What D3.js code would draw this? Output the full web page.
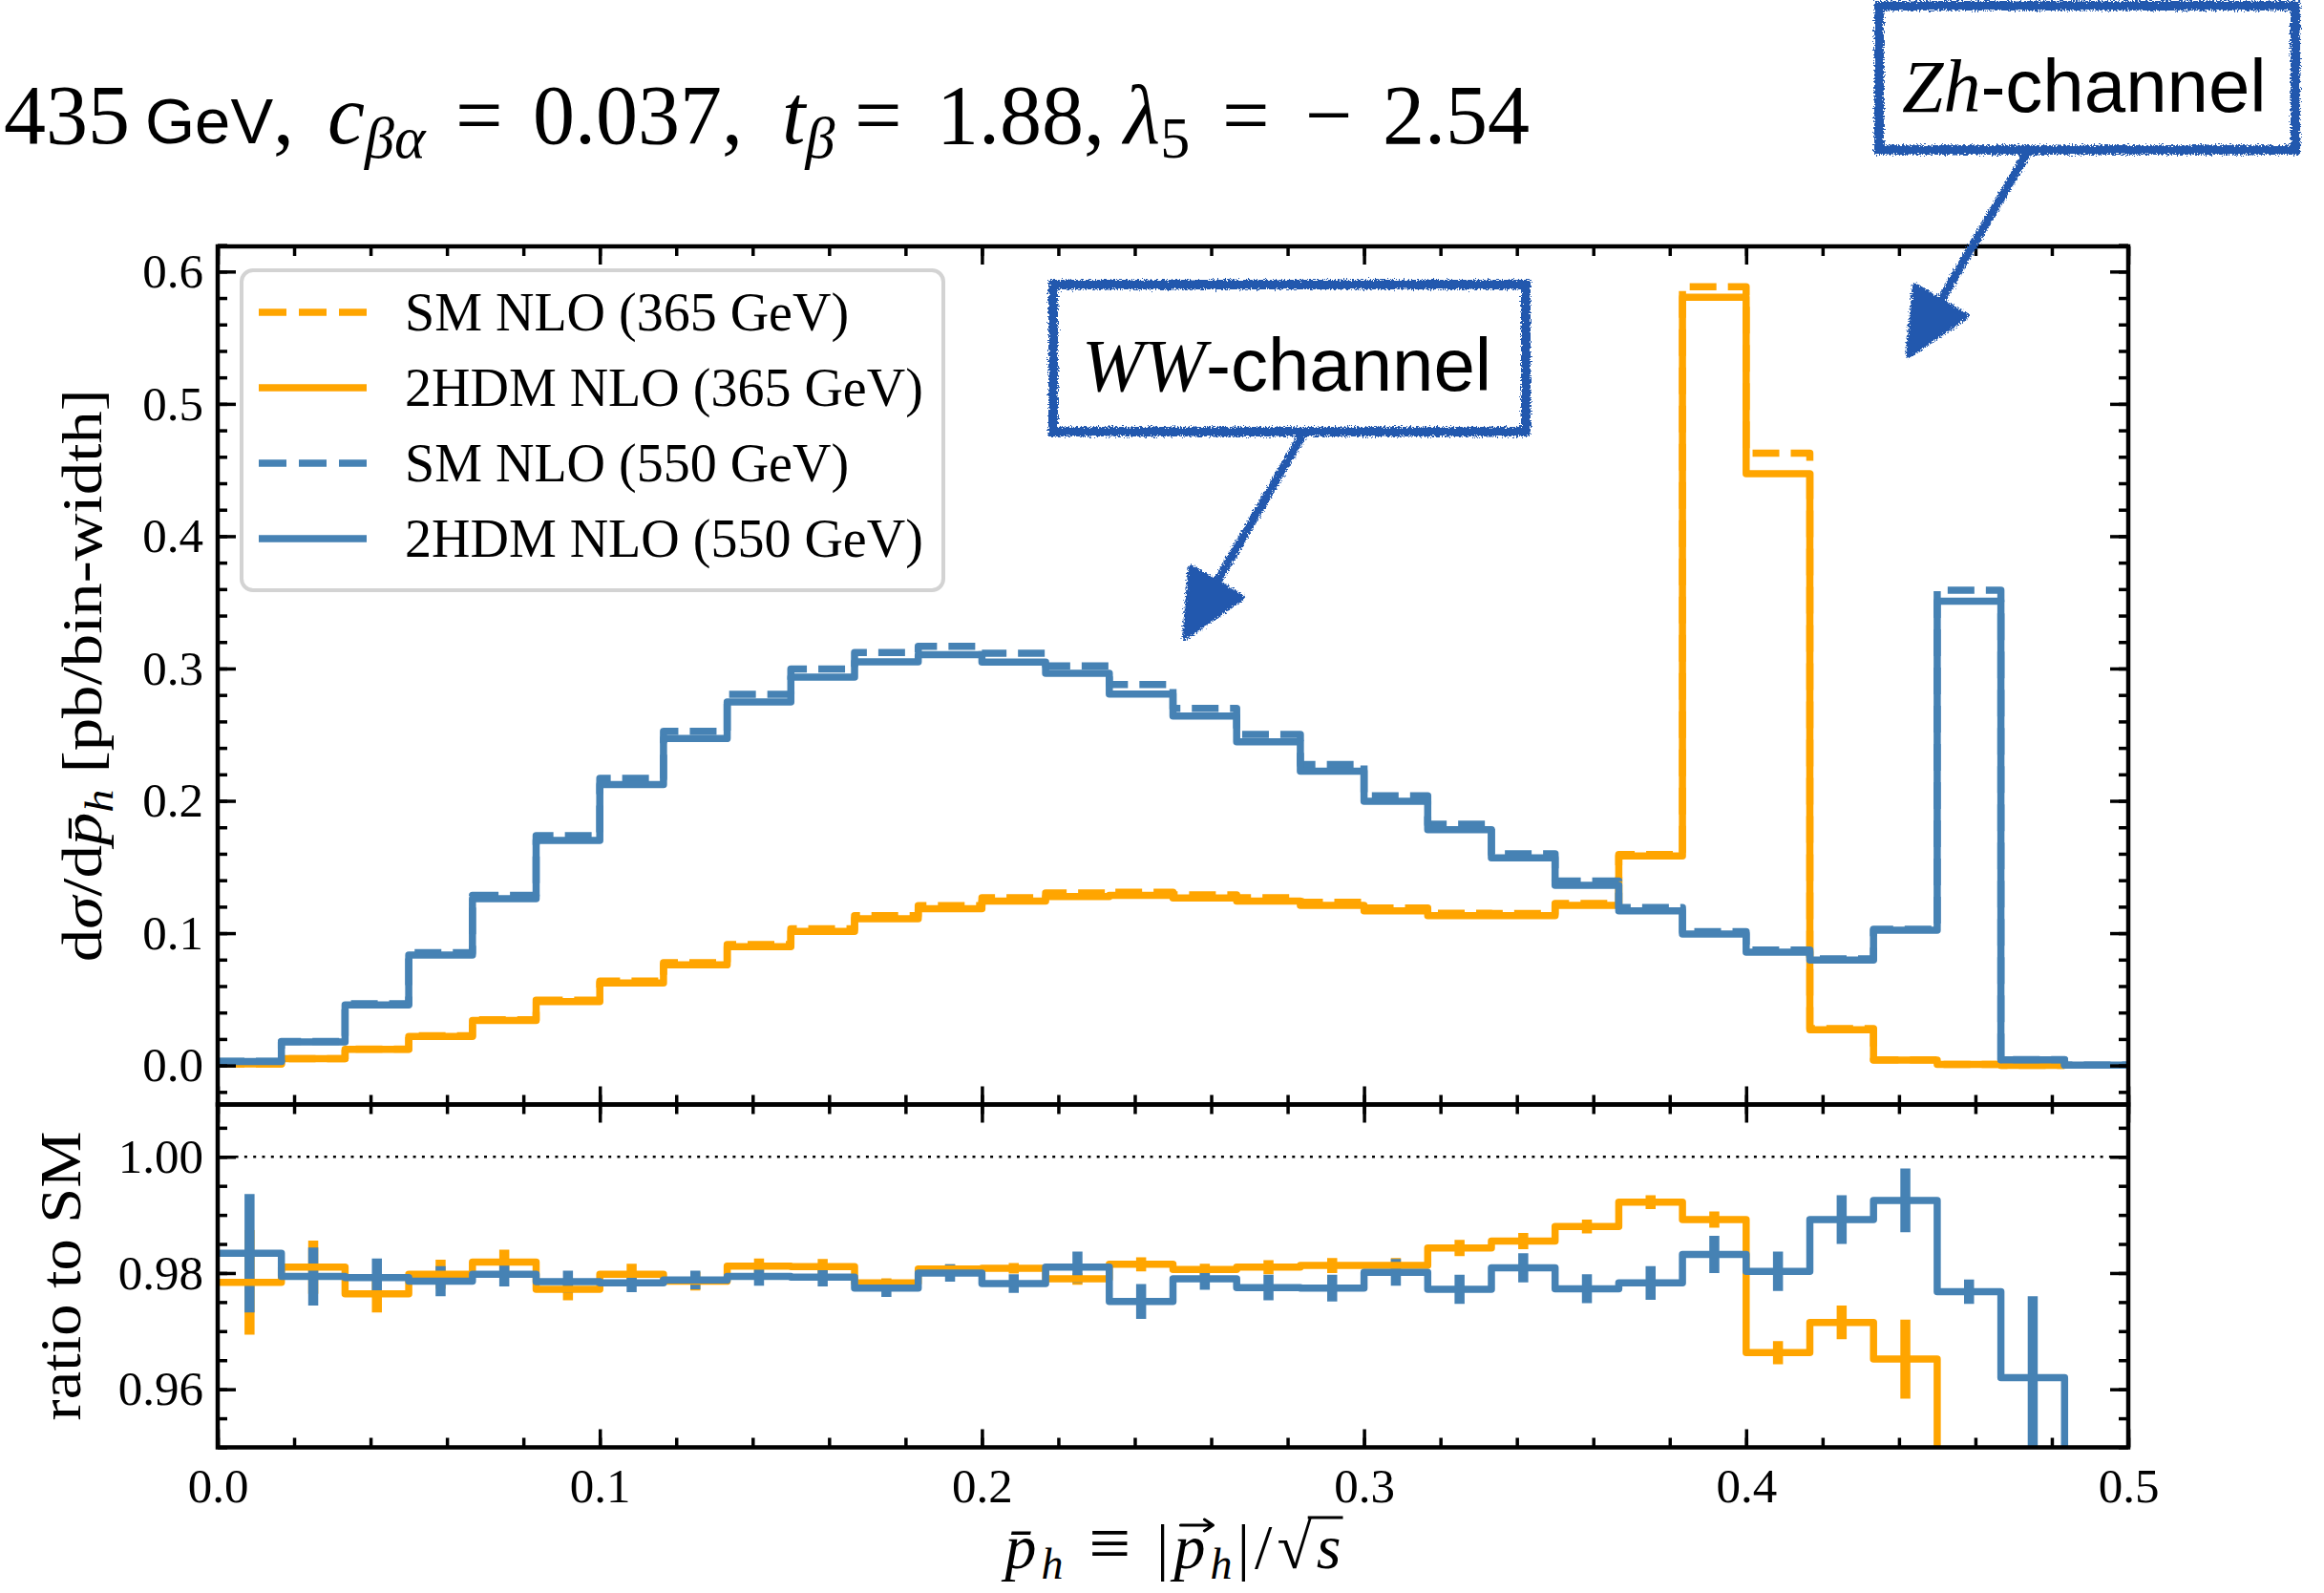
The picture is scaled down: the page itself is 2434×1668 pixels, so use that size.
<!DOCTYPE html>
<html>
<head>
<meta charset="utf-8">
<script src="https://cdn.jsdelivr.net/npm/d3@7"></script>
<style>
  body { margin: 0; background: #fff; }
</style>
</head>
<body>
<div id="chart"></div>
<script>
// bin edges (30 bins of width 1/60 in p_h/sqrt(s))
const binEdges = [0, 0.016667, 0.033333, 0.05, 0.066667, 0.083333, 0.1, 0.116667, 0.133333, 0.15,
  0.166667, 0.183333, 0.2, 0.216667, 0.233333, 0.25, 0.266667, 0.283333, 0.3, 0.316667,
  0.333333, 0.35, 0.366667, 0.383333, 0.4, 0.416667, 0.433333, 0.45, 0.466667, 0.483333, 0.5];

// dsigma/dp [pb/bin-width], 365 GeV (29 bins)
const sm365 = [0.0012, 0.0052, 0.0124, 0.0224, 0.0346, 0.0493, 0.0637, 0.0777, 0.0914, 0.1033,
  0.1133, 0.1208, 0.1267, 0.1303, 0.1310, 0.1290, 0.1267, 0.1233, 0.1190, 0.1150,
  0.1149, 0.1225, 0.1595, 0.5885, 0.4628, 0.0278, 0.0043, 0.0009, 0.0001];
const hdm365 = [0.0012, 0.0051, 0.0121, 0.0219, 0.0340, 0.0482, 0.0624, 0.0760, 0.0897, 0.1013,
  0.1108, 0.1185, 0.1243, 0.1276, 0.1286, 0.1265, 0.1243, 0.1210, 0.1168, 0.1132,
  0.1132, 0.1210, 0.1583, 0.5805, 0.4472, 0.0270, 0.0041, 0.0008, 0.0001];

// 550 GeV (30 bins)
const sm550 = [0.0031, 0.0181, 0.0467, 0.0852, 0.1286, 0.1737, 0.2170, 0.2525, 0.2805, 0.2997,
  0.3121, 0.3168, 0.3116, 0.3020, 0.2879, 0.2698, 0.2501, 0.2275, 0.2038, 0.1824,
  0.1600, 0.1394, 0.1194, 0.1011, 0.0873, 0.0805, 0.1030, 0.3592, 0.0044, 0.0002];
const hdm550 = [0.0030, 0.0177, 0.0457, 0.0834, 0.1260, 0.1700, 0.2123, 0.2471, 0.2747, 0.2935,
  0.3050, 0.3105, 0.3048, 0.2963, 0.2807, 0.2641, 0.2445, 0.2224, 0.1997, 0.1782,
  0.1569, 0.1362, 0.1168, 0.0994, 0.0856, 0.0796, 0.1022, 0.3509, 0.0042, 0.0002];

// ratio 2HDM / SM with MC errors
const ratio365 = [0.9784, 0.9810, 0.9764, 0.9798, 0.9819, 0.9772, 0.9798, 0.9786, 0.9812, 0.9811,
  0.9783, 0.9807, 0.9808, 0.9790, 0.9815, 0.9806, 0.9810, 0.9813, 0.9813, 0.9843,
  0.9855, 0.9880, 0.9922, 0.9892, 0.9663, 0.9715, 0.9652, 0.9100, 0.9000];
const err365 = [0.0090, 0.0046, 0.0032, 0.0025, 0.0021, 0.0019, 0.0018, 0.0016, 0.0013, 0.0013,
  0.0008, 0.0008, 0.0009, 0.0010, 0.0012, 0.0010, 0.0012, 0.0013, 0.0013, 0.0014,
  0.0014, 0.0012, 0.0012, 0.0014, 0.0020, 0.0029, 0.0068, 0.0100, 0.0100];
const ratio550 = [0.9834, 0.9794, 0.9792, 0.9786, 0.9798, 0.9785, 0.9783, 0.9788, 0.9794, 0.9793,
  0.9774, 0.9800, 0.9782, 0.9810, 0.9751, 0.9790, 0.9775, 0.9774, 0.9801, 0.9772,
  0.9809, 0.9773, 0.9783, 0.9832, 0.9803, 0.9892, 0.9925, 0.9768, 0.9620, 0.9000];
const err550 = [0.0102, 0.0050, 0.0033, 0.0026, 0.0021, 0.0019, 0.0016, 0.0016, 0.0016, 0.0016,
  0.0015, 0.0015, 0.0016, 0.0027, 0.0030, 0.0019, 0.0022, 0.0023, 0.0023, 0.0025,
  0.0025, 0.0025, 0.0029, 0.0032, 0.0034, 0.0042, 0.0055, 0.0021, 0.0140, 0.0200];

const xTicks = [0.0, 0.1, 0.2, 0.3, 0.4, 0.5];
const yTicks = [0.0, 0.1, 0.2, 0.3, 0.4, 0.5, 0.6];
const rTicks = [0.96, 0.98, 1.00];
const legendLabels = ["SM NLO (365 GeV)", "2HDM NLO (365 GeV)", "SM NLO (550 GeV)", "2HDM NLO (550 GeV)"];

const W = 2434, H = 1668;
const serif = "'Liberation Serif', 'Times New Roman', serif";
const sans = "'Liberation Sans', Arial, sans-serif";
const ORANGE = "#ffa500", BLUE = "#4682b4", ANNOT = "#2159ae";
const LW = 7.5;

const svg = d3.select("#chart").append("svg")
  .attr("width", W).attr("height", H)
  .style("background", "#fff");

const defs = svg.append("defs");
const rough = defs.append("filter").attr("id", "rough")
  .attr("x", "-10%").attr("y", "-10%").attr("width", "120%").attr("height", "120%");
rough.append("feTurbulence").attr("type", "fractalNoise").attr("baseFrequency", 0.6)
  .attr("numOctaves", 2).attr("seed", 4).attr("result", "noise");
rough.append("feDisplacementMap").attr("in", "SourceGraphic").attr("in2", "noise")
  .attr("scale", 8).attr("xChannelSelector", "R").attr("yChannelSelector", "G");

const left = 228, right = 2229, mainTop = 258, split = 1156.5, ratioBottom = 1515.5;

const x = d3.scaleLinear().domain([0, 0.5]).range([left, right]);
const y = d3.scaleLinear().domain([-0.0295, 0.619]).range([split, mainTop]);
const yr = d3.scaleLinear().domain([0.95, 1.009]).range([ratioBottom, split]);

defs.append("clipPath").attr("id", "clipMain").append("rect")
  .attr("x", left).attr("y", mainTop).attr("width", right - left).attr("height", split - mainTop);
defs.append("clipPath").attr("id", "clipRatio").append("rect")
  .attr("x", left).attr("y", split).attr("width", right - left).attr("height", ratioBottom - split);

function stepPts(vals) {
  const p = vals.map((v, i) => [binEdges[i], v]);
  p.push([binEdges[vals.length], vals[vals.length - 1]]);
  return p;
}

// ---- main panel ----
const gMain = svg.append("g").attr("clip-path", "url(#clipMain)");
const lineMain = d3.line().x(d => x(d[0])).y(d => y(d[1])).curve(d3.curveStepAfter);

const series = [
  { vals: sm365, color: ORANGE, dash: "28,12" },
  { vals: hdm365, color: ORANGE, dash: null },
  { vals: sm550, color: BLUE, dash: "28,12" },
  { vals: hdm550, color: BLUE, dash: null }
];
series.forEach(s => {
  gMain.append("path")
    .attr("d", lineMain(stepPts(s.vals)))
    .attr("fill", "none")
    .attr("stroke", s.color)
    .attr("stroke-width", LW)
    .attr("stroke-linejoin", "round")
    .attr("stroke-dasharray", s.dash);
});

// ---- ratio panel ----
const gRatio = svg.append("g").attr("clip-path", "url(#clipRatio)");
const lineRatio = d3.line().x(d => x(d[0])).y(d => yr(d[1])).curve(d3.curveStepAfter);

gRatio.append("line")
  .attr("x1", left).attr("x2", right)
  .attr("y1", yr(1)).attr("y2", yr(1))
  .attr("stroke", "#000").attr("stroke-width", 2.6)
  .attr("stroke-dasharray", "3,6.3");

const ratioSeries = [
  { vals: ratio365, err: err365, color: ORANGE },
  { vals: ratio550, err: err550, color: BLUE }
];
ratioSeries.forEach(s => {
  gRatio.selectAll(null)
    .data(s.vals)
    .enter().append("line")
    .attr("x1", (d, i) => x((binEdges[i] + binEdges[i + 1]) / 2))
    .attr("x2", (d, i) => x((binEdges[i] + binEdges[i + 1]) / 2))
    .attr("y1", (d, i) => yr(d - s.err[i]))
    .attr("y2", (d, i) => yr(d + s.err[i]))
    .attr("stroke", s.color)
    .attr("stroke-width", 10.5);
});
ratioSeries.forEach(s => {
  gRatio.append("path")
    .attr("d", lineRatio(stepPts(s.vals)))
    .attr("fill", "none")
    .attr("stroke", s.color)
    .attr("stroke-width", LW)
    .attr("stroke-linejoin", "round");
});

// ---- axes ----
function drawTicks(g, axisFn, scale, values, size, fmt, pad) {
  const a = axisFn(scale).tickValues(values).tickSize(-size).tickPadding(pad);
  a.tickFormat(fmt ? fmt : () => "");
  g.call(a);
  g.select(".domain").remove();
  g.selectAll("line").attr("stroke", "#000").attr("stroke-width", 3.5);
  g.selectAll("text").attr("font-family", serif).attr("font-size", 51).attr("fill", "#000");
}

const xMinor = d3.range(0, 0.5001, 0.02);
const yMinor = d3.range(-0.02, 0.6201, 0.02);
const rMinor = d3.range(0.95, 1.0091, 0.005);
const MAJ = 19, MIN = 10;

// main panel ticks
drawTicks(svg.append("g").attr("transform", `translate(${left},0)`), d3.axisLeft, y, yMinor, MIN);
drawTicks(svg.append("g").attr("transform", `translate(${left},0)`), d3.axisLeft, y, yTicks, MAJ, d3.format(".1f"), 15);
drawTicks(svg.append("g").attr("transform", `translate(${right},0)`), d3.axisRight, y, yMinor, MIN);
drawTicks(svg.append("g").attr("transform", `translate(${right},0)`), d3.axisRight, y, yTicks, MAJ);
drawTicks(svg.append("g").attr("transform", `translate(0,${mainTop})`), d3.axisTop, x, xMinor, MIN);
drawTicks(svg.append("g").attr("transform", `translate(0,${mainTop})`), d3.axisTop, x, xTicks, MAJ);
drawTicks(svg.append("g").attr("transform", `translate(0,${split})`), d3.axisBottom, x, xMinor, MIN);
drawTicks(svg.append("g").attr("transform", `translate(0,${split})`), d3.axisBottom, x, xTicks, MAJ);

// ratio panel ticks
drawTicks(svg.append("g").attr("transform", `translate(${left},0)`), d3.axisLeft, yr, rMinor, MIN);
drawTicks(svg.append("g").attr("transform", `translate(${left},0)`), d3.axisLeft, yr, rTicks, MAJ, d3.format(".2f"), 15);
drawTicks(svg.append("g").attr("transform", `translate(${right},0)`), d3.axisRight, yr, rMinor, MIN);
drawTicks(svg.append("g").attr("transform", `translate(${right},0)`), d3.axisRight, yr, rTicks, MAJ);
drawTicks(svg.append("g").attr("transform", `translate(0,${split})`), d3.axisTop, x, xMinor, MIN);
drawTicks(svg.append("g").attr("transform", `translate(0,${split})`), d3.axisTop, x, xTicks, MAJ);
drawTicks(svg.append("g").attr("transform", `translate(0,${ratioBottom})`), d3.axisBottom, x, xMinor, MIN);
drawTicks(svg.append("g").attr("transform", `translate(0,${ratioBottom})`), d3.axisBottom, x, xTicks, MAJ, d3.format(".1f"), 21);

// spines
[[mainTop, split], [split, ratioBottom]].forEach(([t, b]) => {
  svg.append("rect")
    .attr("x", left).attr("y", t).attr("width", right - left).attr("height", b - t)
    .attr("fill", "none").attr("stroke", "#000").attr("stroke-width", 4.5);
});

// ---- legend ----
const lg = svg.append("g");
lg.append("rect")
  .attr("x", 253).attr("y", 283).attr("width", 735).attr("height", 335)
  .attr("rx", 12).attr("ry", 12)
  .attr("fill", "#fff").attr("fill-opacity", 0.8)
  .attr("stroke", "#d3d3d3").attr("stroke-width", 4);
legendLabels.forEach((lab, i) => {
  const cy = 327 + i * 79;
  const s = series[i];
  lg.append("line")
    .attr("x1", 271).attr("x2", 384).attr("y1", cy).attr("y2", cy)
    .attr("stroke", s.color).attr("stroke-width", LW)
    .attr("stroke-dasharray", s.dash ? "29,13" : null);
  lg.append("text")
    .attr("x", 424).attr("y", cy + 19)
    .attr("font-family", serif).attr("font-size", 56)
    .text(lab);
});

// ---- axis labels ----
const yl = svg.append("text")
  .attr("transform", `translate(106,${(mainTop + split) / 2}) rotate(-90)`)
  .attr("text-anchor", "middle")
  .attr("font-family", serif).attr("font-size", 60)
  .attr("textLength", 600).attr("lengthAdjust", "spacingAndGlyphs");
yl.append("tspan").text("d");
yl.append("tspan").attr("font-style", "italic").text("σ");
yl.append("tspan").text("/d");
yl.append("tspan").attr("font-style", "italic").text("p\u0304");
yl.append("tspan").attr("font-style", "italic").attr("font-size", 42).attr("dy", 12).text("h");
yl.append("tspan").attr("dy", -12).text(" [pb/bin-width]");

svg.append("text")
  .attr("transform", `translate(84,${(split + ratioBottom) / 2}) rotate(-90)`)
  .attr("text-anchor", "middle")
  .attr("font-family", serif).attr("font-size", 62)
  .attr("textLength", 303).attr("lengthAdjust", "spacingAndGlyphs")
  .text("ratio to SM");

const xlBase = 1642;
const xl = svg.append("text")
  .attr("x", (left + right) / 2).attr("y", xlBase)
  .attr("text-anchor", "middle")
  .attr("font-family", serif).attr("font-size", 66)
  .attr("textLength", 352).attr("lengthAdjust", "spacing");
xl.append("tspan").attr("font-style", "italic").text("p\u0304");
xl.append("tspan").attr("font-style", "italic").attr("font-size", 46).attr("dy", 11).text("h");
xl.append("tspan").attr("dy", -11).text(" ");
xl.append("tspan").attr("font-size", 78).text("≡");
xl.append("tspan").text(" |");
xl.append("tspan").attr("font-style", "italic").text("p");
xl.append("tspan").attr("font-style", "italic").attr("font-size", 46).attr("dy", 11).text("h");
xl.append("tspan").attr("dy", -11).text("|/√");
xl.append("tspan").attr("font-style", "italic").text("s");
{
  const node = xl.node();
  const n = node.getNumberOfChars();
  // overline of the square root
  const sBox = node.getExtentOfChar(n - 1);
  const rBox = node.getExtentOfChar(n - 2);
  svg.append("line")
    .attr("x1", rBox.x + rBox.width - 4).attr("x2", sBox.x + sBox.width + 2)
    .attr("y1", rBox.y + 6).attr("y2", rBox.y + 6)
    .attr("stroke", "#000").attr("stroke-width", 3);
  // vector arrow over the second p (index 7)
  const pBox = node.getExtentOfChar(7);
  const ay = xlBase - 45, ax0 = pBox.x + 7, ax1 = pBox.x + pBox.width + 8;
  svg.append("path")
    .attr("d", `M${ax0},${ay} L${ax1},${ay} M${ax1 - 9},${ay - 6} L${ax1},${ay} L${ax1 - 9},${ay + 6}`)
    .attr("fill", "none").attr("stroke", "#000").attr("stroke-width", 3)
    .attr("stroke-linejoin", "round").attr("stroke-linecap", "round");
}

// ---- title ----
const tt = svg.append("text")
  .attr("y", 150)
  .attr("font-family", serif).attr("font-size", 88);
const sub = 15;
tt.append("tspan").attr("x", 4).text("435");
tt.append("tspan").attr("x", 152).attr("font-family", sans).attr("font-size", 67).text("GeV");
tt.append("tspan").text(",");
tt.append("tspan").attr("x", 343).attr("font-style", "italic").text("c");
tt.append("tspan").attr("font-style", "italic").attr("font-size", 62).attr("dy", sub).text("βα");
tt.append("tspan").attr("x", 477).attr("dy", -sub).text("=");
tt.append("tspan").attr("x", 558).text("0.037,");
tt.append("tspan").attr("x", 819).attr("font-style", "italic").text("t");
tt.append("tspan").attr("font-style", "italic").attr("font-size", 62).attr("dy", sub).text("β");
tt.append("tspan").attr("x", 895).attr("dy", -sub).text("=");
tt.append("tspan").attr("x", 981).text("1.88,");
tt.append("tspan").attr("x", 1177).attr("font-style", "italic").text("λ");
tt.append("tspan").attr("font-size", 62).attr("dy", sub).text("5");
tt.append("tspan").attr("x", 1280).attr("dy", -sub).text("=");
tt.append("tspan").attr("x", 1367).text("−");
tt.append("tspan").attr("x", 1448).text("2.54");

// ---- annotations ----
const annotations = [
  { lead: "WW", box: [1103, 298, 1598, 452], tx: 1133, ty: 409, from: [1366, 452], tip: [1241, 667] },
  { lead: "Zh", box: [1968, 6, 2404, 157], tx: 1992, ty: 117, from: [2125, 157], tip: [1999, 372] }
];
annotations.forEach(a => {
  const g = svg.append("g");
  const [x0, y0, x1, y1] = a.box;
  const dx = a.tip[0] - a.from[0], dy = a.tip[1] - a.from[1];
  const len = Math.hypot(dx, dy), ux = dx / len, uy = dy / len;
  const hl = 66, hw = 31;
  const bx = a.tip[0] - ux * hl, by = a.tip[1] - uy * hl;
  const rg = g.append("g").attr("filter", "url(#rough)");
  rg.append("line")
    .attr("x1", a.from[0]).attr("y1", a.from[1]).attr("x2", bx + ux * 10).attr("y2", by + uy * 10)
    .attr("stroke", ANNOT).attr("stroke-width", 9);
  rg.append("polygon")
    .attr("points", [[a.tip[0], a.tip[1]], [bx - uy * hw, by + ux * hw], [bx + uy * hw, by - ux * hw]].map(p => p.join(",")).join(" "))
    .attr("fill", ANNOT).attr("stroke", ANNOT).attr("stroke-width", 6).attr("stroke-linejoin", "round");
  g.append("rect")
    .attr("x", x0).attr("y", y0).attr("width", x1 - x0).attr("height", y1 - y0)
    .attr("fill", "#fff");
  g.append("rect")
    .attr("x", x0).attr("y", y0).attr("width", x1 - x0).attr("height", y1 - y0)
    .attr("fill", "none").attr("stroke", ANNOT).attr("stroke-width", 10)
    .attr("filter", "url(#rough)");
  const t = g.append("text").attr("x", a.tx).attr("y", a.ty).attr("font-size", 78);
  t.append("tspan").attr("font-family", serif).attr("font-style", "italic").text(a.lead);
  t.append("tspan").attr("font-family", sans).text("-channel");
});
</script>
</body>
</html>
